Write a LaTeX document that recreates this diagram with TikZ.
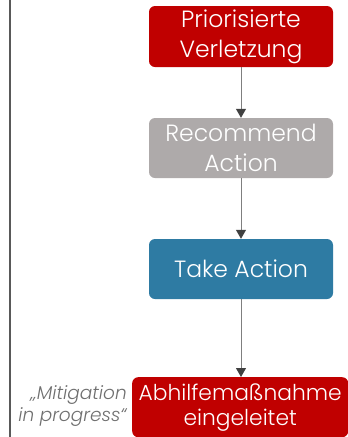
\documentclass[tikz,border=0pt]{standalone}
\usepackage{fontspec}
\setmainfont{Poppins}[UprightFont={* Light}, ItalicFont={* Light Italic}]
\usetikzlibrary{arrows.meta}
\definecolor{myred}{HTML}{C00000}
\definecolor{mygray}{HTML}{AEAAAA}
\definecolor{myblue}{HTML}{2E7BA3}
\definecolor{lineg}{HTML}{7F7F7F}
\definecolor{headg}{HTML}{404040}
\definecolor{axisg}{HTML}{595959}
\definecolor{noteg}{HTML}{6F6F6F}
\begin{document}
\begin{tikzpicture}[x=1pt,y=-1pt,
  box/.style={rounded corners=6pt, text=white, align=center, inner sep=0pt,
    font=\fontsize{23.5}{30}\selectfont},
  smallbox/.style={box, font=\fontsize{21.8}{25}\selectfont},
  conn/.style={draw=lineg, line width=1pt,
    -{Triangle[width=10pt,length=9pt,fill=headg,color=headg]}},
  note/.style={text=noteg, align=right, font=\itshape\fontsize{18.5}{22}\selectfont, inner sep=0pt}]
\useasboundingbox (0,0) rectangle (348,437);
\draw[axisg, line width=2pt] (10,0) -- (10,437);
\node[box, fill=myred, minimum width=184pt, minimum height=61pt] (a) at (241,36.5) {Priorisierte\\Verletzung};
\node[box, fill=mygray, minimum width=184pt, minimum height=60pt] (b) at (241,148) {Recommend\\Action};
\node[box, fill=myblue, minimum width=184pt, minimum height=60pt] (c) at (241,269) {Take Action};
\node[smallbox, fill=myred, minimum width=216pt, minimum height=60pt, anchor=north west] (d) at (132,377) {Abhilfemaßnahme\\eingeleitet};
\node[note, anchor=east] (n) at (127,406) {„Mitigation\\in progress“};
\draw[conn] (a.south) -- (b.north);
\draw[conn] (b.south) -- (c.north);
\draw[conn] (c.south) -- (c.south |- d.north);
\end{tikzpicture}
\end{document}
